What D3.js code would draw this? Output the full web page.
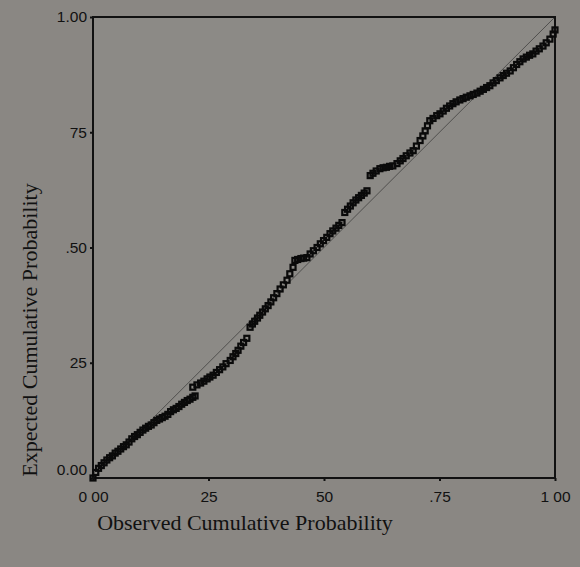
<!DOCTYPE html>
<html><head><meta charset="utf-8">
<script src="https://cdn.jsdelivr.net/npm/d3@7"></script>
<style>
html,body{margin:0;padding:0;background:#8a8783;}
svg{display:block;}
</style></head>
<body>
<svg id="chart" width="580" height="567"></svg>
<script>
// Data
const observed = [0,.006,.012,.018,.024,.030,.036,.042,.048,.054,.060,.066,.072,.078,.084,.090,.096,.102,.108,.114,.120,.126,.132,.138,.144,.150,.156,.162,.168,.174,.180,.186,.192,.198,.204,.210,.216,.221,
  .216,.225,.233,.240,.247,.253,
  .260,.267,.274,.281,.288,.297,.303,.309,.314,.320,.326,.333,
  .340,.345,.350,.356,.361,.367,.373,.379,.385,.391,.398,.405,.412,.420,.426,.433,.437,.443,.450,.456,.463,.470,.477,.485,.492,.499,.506,.513,.519,.526,.532,.539,
  .545,.551,.557,.563,.569,.575,.581,.587,.593,
  .600,.606,.613,.621,.628,.635,.642,.649,.658,.665,.671,.678,.686,.693,.700,.708,.714,.719,.724,.729,.736,.744,.751,.758,.765,.772,.779,.786,.794,.801,.808,.816,.823,.831,.838,.845,.852,.859,.866,.873,.881,.888,.895,.903,.910,.917,.924,.931,.938,.945,.952,.959,.966,.974,.981,.989,.996,1.0];
const expected = [0,.012,.021,.027,.033,.039,.044,.048,.054,.058,.063,.068,.072,.078,.085,.090,.094,.099,.104,.108,.112,.115,.120,.125,.128,.131,.134,.138,.144,.148,.151,.155,.160,.164,.168,.171,.175,.178,
  .197,.202,.206,.210,.215,.219,
  .223,.229,.235,.241,.248,.255,.263,.270,.277,.286,.294,.303,
  .327,.334,.340,.347,.353,.360,.367,.374,.382,.391,.400,.410,.419,.429,.443,.457,.472,.474,.476,.477,.478,.486,.493,.500,.508,.515,.522,.530,.536,.542,.548,.554,
  .576,.583,.590,.597,.603,.608,.613,.618,.623,
  .656,.661,.666,.671,.673,.674,.676,.677,.682,.688,.693,.699,.705,.710,.720,.732,.742,.753,.764,.775,.780,.786,.790,.796,.802,.807,.812,.816,.820,.823,.826,.829,.832,.835,.839,.843,.847,.851,.857,.862,.868,.873,.878,.883,.890,.897,.903,.909,.913,.917,.920,.926,.931,.937,.944,.952,.963,.972];
const yTickValues = [0, .25, .5, .75, 1];
const yTickLabels = ["0.00", "25", ".50", "75", "1.00"];
const xTickValues = [0, .25, .5, .75, 1];
const xTickLabels = ["0 00", "25", "50", ".75", "1 00"];
const xTitle = "Observed Cumulative Probability";
const yTitle = "Expected Cumulative Probability";

const svg = d3.select("#chart");
const x = d3.scaleLinear().domain([0,1]).range([93,555]);
const y = d3.scaleLinear().domain([0,1]).range([478,17]);

svg.append("rect").attr("width",580).attr("height",567).attr("fill","#8a8783");
svg.append("rect").attr("x",x(0)).attr("y",y(1)).attr("width",x(1)-x(0)).attr("height",y(0)-y(1))
  .attr("fill","#8c8a86");

// reference diagonal
svg.append("line").attr("x1",x(0)).attr("y1",y(0)).attr("x2",x(1)).attr("y2",y(1))
  .attr("stroke","#2a2a2a").attr("stroke-width",1).attr("opacity",0.6);

// frame
svg.append("rect").attr("x",x(0)).attr("y",y(1)).attr("width",x(1)-x(0)).attr("height",y(0)-y(1))
  .attr("fill","none").attr("stroke","#111").attr("stroke-width",2);

const font = "'Liberation Sans', Arial, sans-serif";
const yAxis = d3.axisLeft(y).tickValues(yTickValues).tickSize(3)
  .tickFormat((d,i)=>yTickLabels[i]);
const gy = svg.append("g").attr("transform",`translate(${x(0)},0)`).call(yAxis);
gy.select(".domain").remove();
gy.selectAll(".tick line").attr("stroke","#111").attr("stroke-width",2);
gy.selectAll(".tick text").attr("font-family",font).attr("font-size",15.5).attr("fill","#111")
  .attr("x",-6).attr("dy",(d)=> d===0 ? "-0.25em" : "0.32em");

const xAxis = d3.axisBottom(x).tickValues(xTickValues).tickSize(3)
  .tickFormat((d,i)=>xTickLabels[i]);
const gx = svg.append("g").attr("transform",`translate(0,${y(0)})`).call(xAxis);
gx.select(".domain").remove();
gx.selectAll(".tick line").attr("stroke","#111").attr("stroke-width",2);
gx.selectAll(".tick text").attr("font-family",font).attr("font-size",15.5).attr("fill","#111")
  .attr("y",13);

// points
const pts = observed.map((o,i)=>({o, e: expected[i]}));
const s = 5;
svg.append("g").selectAll("rect").data(pts).join("rect")
  .attr("x",d=>x(d.o)-s/2).attr("y",d=>y(d.e)-s/2).attr("width",s).attr("height",s)
  .attr("fill","none").attr("stroke","#0a0a0a").attr("stroke-width",2.2);

// titles
const serif = "'Liberation Serif', 'Times New Roman', serif";
svg.append("text").attr("x",245).attr("y",530).attr("text-anchor","middle")
  .attr("font-family",serif).attr("font-size",22).attr("fill","#111").text(xTitle);
svg.append("text").attr("transform","translate(37,330) rotate(-90)").attr("text-anchor","middle")
  .attr("font-family",serif).attr("font-size",22).attr("fill","#111").text(yTitle);
</script>
</body></html>
